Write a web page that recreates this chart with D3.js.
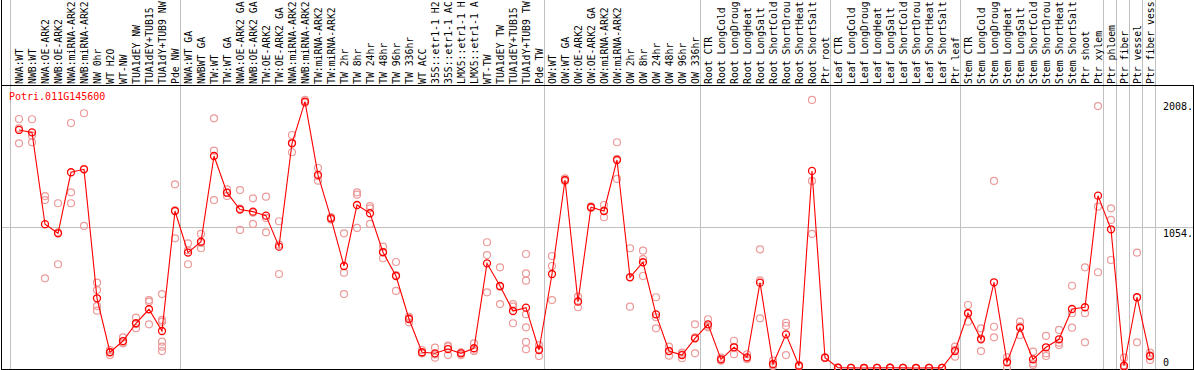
<!DOCTYPE html>
<html><head><meta charset="utf-8">
<script src="https://cdn.jsdelivr.net/npm/d3@7"></script>
<style>body{margin:0;background:#fff}svg{display:block}text{font-family:"DejaVu Sans Mono",monospace;font-size:10px}</style>
</head><body>
<script>
const geneTitle = "Potri.011G145600";
const labels = ["NWA:WT","NWB:WT","NWA:OE-ARK2","NWB:OE-ARK2","NWA:miRNA-ARK2","NWB:miRNA-ARK2","NW 0hr","WT H2O","WT-NW","TUA1dEY NW","TUA1dEY+TUB15","TUA1dY+TUB9 NW","Pde NW",
"NWA:WT GA","NWBWT GA","TW:WT","TW:WT GA","NWA:OE-ARK2 GA","NWB:OE-ARK2 GA","TW:OE-ARK2","TW:OE-ARK2 GA","NWA:miRNA-ARK2","NWB:miRNA-ARK2","TW:miRNA-ARK2","TW:miRNA-ARK2","TW 2hr","TW 8hr","TW 24hr","TW 48hr","TW 96hr","TW 336hr","WT ACC","35S::etr1-1 H2","35S::etr1-1 AC","LMX5::etr1-1 H","LMX5::etr1-1 A","WT-TW","TUA1dEY TW","TUA1dEY+TUB15","TUA1dY+TUB9 TW","Pde TW",
"OW:WT","OW:WT GA","OW:OE-ARK2","OW:OE-ARK2 GA","OW:miRNA-ARK2","OW:miRNA-ARK2","OW 2hr","OW 8hr","OW 24hr","OW 48hr","OW 96hr","OW 336hr",
"Root CTR","Root LongCold","Root LongDroug","Root LongHeat","Root LongSalt","Root ShortCold","Root ShortDrou","Root ShortHeat","Root ShortSalt","Ptr root",
"Leaf CTR","Leaf LongCold","Leaf LongDroug","Leaf LongHeat","Leaf LongSalt","Leaf ShortCold","Leaf ShortDrou","Leaf ShortHeat","Leaf ShortSalt","Ptr leaf",
"Stem CTR","Stem LongCold","Stem LongDroug","Stem LongHeat","Stem LongSalt","Stem ShortCold","Stem ShortDrou","Stem ShortHeat","Stem ShortSalt","Ptr shoot","Ptr xylem",
"Ptr phloem","Ptr fiber","Ptr vessel","Ptr fiber vess"];
// index of the last column of each group
const groupEnds = [12,40,52,62,72,83,84,85,86,87];
const means = [1783,1765,1077,1009,1466,1488,522,118,202,335,440,277,1176,
864,946,1588,1313,1187,1171,1141,909,1683,1995,1446,1121,764,1221,1159,867,689,367,118,110,142,110,148,784,614,427,452,135,
704,1408,497,1204,1176,1558,679,792,402,127,97,222,
327,65,155,80,639,30,252,17,1476,77,
2,1,0,1,2,1,0,1,1,127,
410,215,642,43,302,65,155,215,442,455,1291,
1039,17,530,90];
const reps = [[1865,1795,1683],[1863,1690,1742],[1288,1258,672],[1234,777,1016],[1835,1316,1234],[1908,1064,1492],[639,584,464,429],[135,97,121],[230,185,191],[377,298,330],[509,497,327],[554,360,347,197,160,127],[1376,971,1181],
[934,777,881],[1004,897,937],[1870,1628,1258],[1338,1288,1313],[1333,1034,1194],[1271,1079,1163],[1283,1016,1124],[1099,704,924],[1745,1616,1688],[2008,1990,1987],[1498,1403,1437],[1130,1112,1121],[1009,714,554],[1316,1049,1298],[1213,1196,1079],[909,822,870],[794,577,696],[384,342,375],[135,110,110],[152,77,101],[167,97,162],[118,97,115],[185,130,129],[942,846,567],[754,479,609],[479,459,335],[854,709,654,402,305,195,140],[172,90,143],
[839,764,509],[1420,1400,1404],[534,455,502],[1210,1200,1202],[1221,1129,1178],[1691,1416,1567],[897,459,681],[879,816,689],[530,380,297],[160,92,129],[115,73,103],[327,110,229],
[365,305,311],[77,63,55],[204,103,158],[103,70,67],[889,372,656],[55,15,20],[339,315,97],[22,15,14],[2008,1401,1004],[77,80,75],
[3,1,2],[1,0,2],[0,1,0],[2,1,0],[3,2,1],[1,2,0],[0,1,0],[1,0,2],[1,1,0],[160,85,136],
[472,347,411],[297,127,222],[1401,309,230],[80,2,47],[347,247,312],[122,35,22],[240,110,90],[285,190,172],[616,410,302],[754,410,192],[1962,1208,717],
[1196,1109,809],[77,2,0],[864,192,530],[115,60,95]];
const yTickValues = [2008,1054,0];
const yTickLabels = ["2008.","1054.","0"];
const scaleMax = 2108.4;

const W = 1194, H = 370;
const svg = d3.select("body").append("svg").attr("width", W).attr("height", H);
const x = d3.scaleLinear().domain([0, labels.length - 1]).range([19, 1150]);
const y = d3.scaleLinear().domain([0, scaleMax]).range([368, 86.5]);
const grey = "#c0c0c0";

// vertical group separators
const seps = [-0.7].concat(groupEnds.map(i => i + 0.4));
svg.append("g").selectAll("line").data(seps).join("line")
  .attr("x1", d => Math.round(x(d)) + 0.5).attr("x2", d => Math.round(x(d)) + 0.5)
  .attr("y1", 0).attr("y2", 369).attr("stroke", grey).attr("stroke-width", 1);
// mid horizontal line
svg.append("line").attr("x1", 1).attr("x2", 1193).attr("y1", Math.round(y(scaleMax / 2)) + 0.5).attr("y2", Math.round(y(scaleMax / 2)) + 0.5)
  .attr("stroke", grey);
// frame
svg.append("line").attr("x1", 1.5).attr("x2", 1.5).attr("y1", 0).attr("y2", 370).attr("stroke", "#000");
svg.append("line").attr("x1", 1).attr("x2", 1194).attr("y1", 85.5).attr("y2", 85.5).attr("stroke", "#000");
svg.append("line").attr("x1", 1).attr("x2", 1194).attr("y1", 369.5).attr("y2", 369.5).attr("stroke", "#000");
svg.append("line").attr("x1", 1193.5).attr("x2", 1193.5).attr("y1", 85).attr("y2", 370).attr("stroke", "#000");

// column labels
svg.append("g").selectAll("text").data(labels).join("text")
  .attr("transform", (d, i) => `translate(${x(i) + 4},84) rotate(-90)`)
  .style("font-size", "9.8px")
  .attr("fill", "#000").text(d => d);

// y labels
svg.append("g").selectAll("text").data(yTickValues).join("text")
  .attr("x", 1163).attr("y", (d, i) => i === 2 ? 366 : y(d) + 10)
  .attr("fill", "#000").text((d, i) => yTickLabels[i]);

// title
svg.append("text").attr("x", 9).attr("y", 100).attr("fill", "#ff0000").text(geneTitle);

// replicate points
const repPts = [];
reps.forEach((arr, i) => arr.forEach(v => repPts.push([i, v])));
svg.append("g").selectAll("circle").data(repPts).join("circle")
  .attr("cx", d => x(d[0])).attr("cy", d => y(d[1])).attr("r", 3.5)
  .attr("fill", "none").attr("stroke", "#ec9a9a").attr("stroke-width", 1.2);

// mean line
svg.append("path").datum(means)
  .attr("d", d3.line().x((d, i) => x(i)).y(d => y(d)))
  .attr("fill", "none").attr("stroke", "#ff0000").attr("stroke-width", 1.1);
svg.append("g").selectAll("circle").data(means).join("circle")
  .attr("cx", (d, i) => x(i)).attr("cy", d => y(d)).attr("r", 3.5)
  .attr("fill", "none").attr("stroke", "#ff0000").attr("stroke-width", 1.3);
</script>
</body></html>
